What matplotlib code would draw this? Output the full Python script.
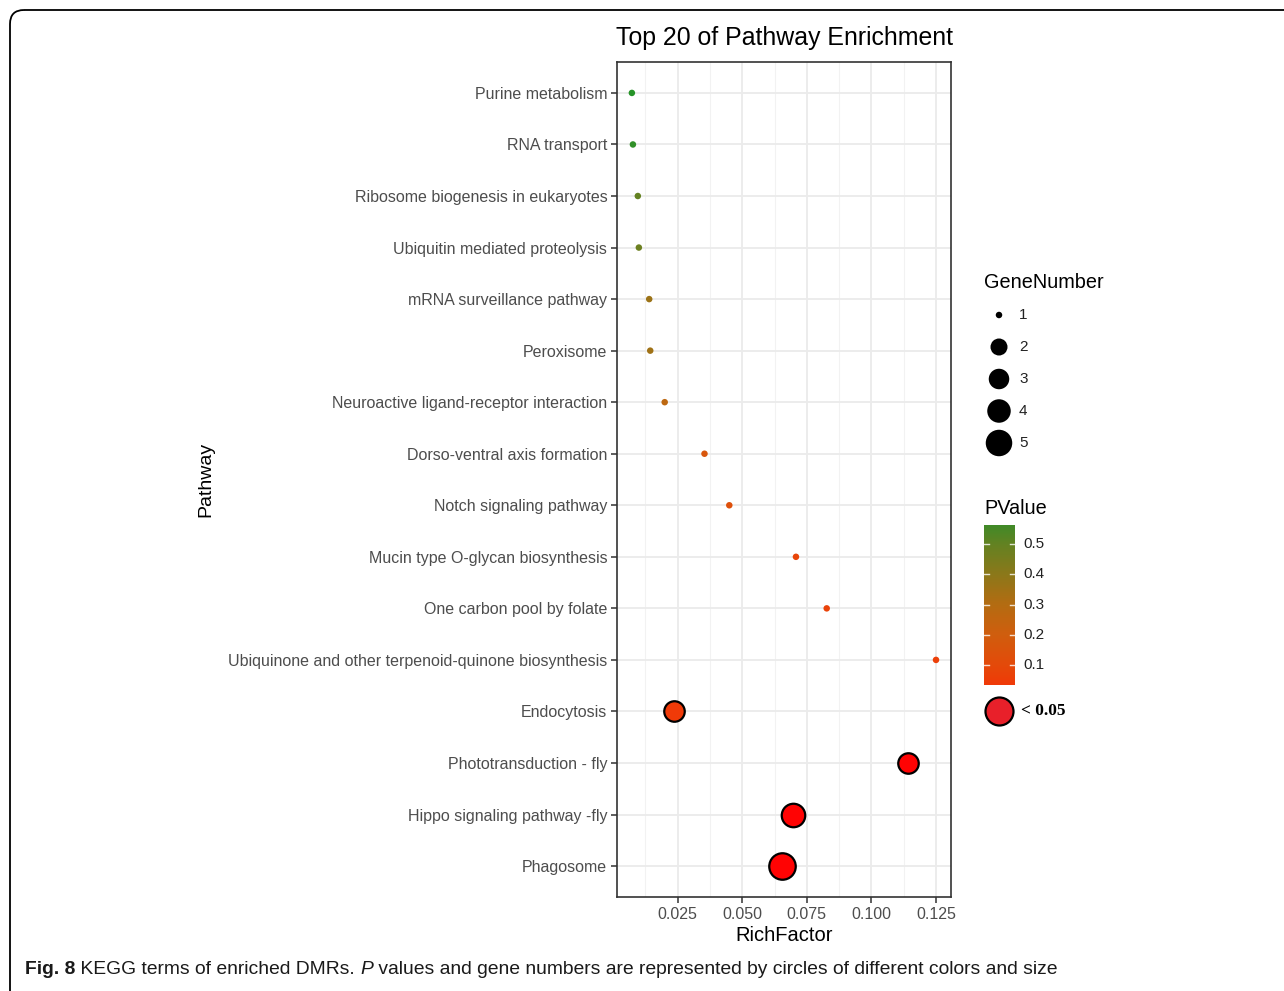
import matplotlib
matplotlib.use("Agg")
import matplotlib.pyplot as plt
import numpy as np
from matplotlib.colors import LinearSegmentedColormap, Normalize
from matplotlib.patches import FancyBboxPatch
from matplotlib import font_manager

# ---- data -------------------------------------------------------------
pathways = [
    "Purine metabolism",
    "RNA transport",
    "Ribosome biogenesis in eukaryotes",
    "Ubiquitin mediated proteolysis",
    "mRNA surveillance pathway",
    "Peroxisome",
    "Neuroactive ligand-receptor interaction",
    "Dorso-ventral axis formation",
    "Notch signaling pathway",
    "Mucin type O-glycan biosynthesis",
    "One carbon pool by folate",
    "Ubiquinone and other terpenoid-quinone biosynthesis",
    "Endocytosis",
    "Phototransduction - fly",
    "Hippo signaling pathway -fly",
    "Phagosome",
]
rich_factor = [0.0073, 0.0077, 0.0096, 0.0100, 0.0140, 0.0144, 0.0200, 0.0354,
               0.0450, 0.0708, 0.0827, 0.1250, 0.0235, 0.1142, 0.0696, 0.0654]
p_value = [0.59, 0.58, 0.50, 0.48, 0.36, 0.35, 0.27, 0.16,
           0.13, 0.08, 0.07, 0.06, 0.036, 0.010, 0.008, 0.005]
gene_number = [1, 1, 1, 1, 1, 1, 1, 1, 1, 1, 1, 1, 3, 3, 4, 5]

x_ticks = [0.025, 0.050, 0.075, 0.100, 0.125]
cbar_ticks = [0.1, 0.2, 0.3, 0.4, 0.5]
size_levels = [1, 2, 3, 4, 5]

# ---- styling ------------------------------------------------------------
W, H, DPI = 1284, 991, 100
SANS = "Liberation Sans"
GREY_TXT = "#4D4D4D"
PX2PT = 72.0 / DPI

# marker diameter (px) for each gene count
diam_px = {1: 6.5, 2: 17.0, 3: 20.5, 4: 23.5, 5: 26.5}

def marker_area(n):
    d = diam_px[n] * PX2PT
    return d * d

P_LO, P_HI, P_CB_TOP = 0.034, 0.60, 0.563
anchors = [
    (0.034, (240, 58, 8)),
    (0.10, (228, 74, 10)),
    (0.20, (208, 94, 14)),
    (0.30, (180, 108, 18)),
    (0.40, (140, 120, 26)),
    (0.50, (100, 130, 34)),
    (0.563, (65, 138, 40)),
    (0.60, (30, 150, 40)),
]
cmap = LinearSegmentedColormap.from_list(
    "pval",
    [((p - P_LO) / (P_HI - P_LO), tuple(c / 255 for c in rgb)) for p, rgb in anchors],
)
cmap.set_under("#FF0303")
norm = Normalize(vmin=P_LO, vmax=P_HI)

fig = plt.figure(figsize=(W / DPI, H / DPI), dpi=DPI)
fig.patch.set_facecolor("white")

def fx(px):
    return px / W

def fy(py):
    return 1 - py / H

# ---- main panel ----------------------------------------------------------
L, R, T, B = 617, 951, 62, 897
ax = fig.add_axes([fx(L), fy(B), fx(R - L), (B - T) / H])
n = len(pathways)
ypos = np.arange(n)[::-1]

ax.set_xlim(0.00154, 0.1308)
ax.set_ylim(-0.6, n - 1 + 0.6)
ax.set_xticks(x_ticks)
ax.set_xticklabels([f"{t:.3f}" for t in x_ticks])
ax.set_xticks(np.arange(0.0125, 0.131, 0.025), minor=True)
ax.set_yticks(ypos)
ax.set_yticklabels(pathways)
ax.grid(True, which="major", color="#EBEBEB", lw=1.3, zorder=0)
ax.grid(True, which="minor", axis="x", color="#F2F2F2", lw=0.8, zorder=0)
ax.set_axisbelow(True)
for sp in ax.spines.values():
    sp.set_color("#333333")
    sp.set_linewidth(1.2)
ax.tick_params(axis="both", which="major", length=4, width=1.1, color="#333333",
               labelsize=11.5, labelcolor=GREY_TXT, pad=3)
ax.tick_params(axis="both", which="minor", length=0)
for lab in ax.get_xticklabels() + ax.get_yticklabels():
    lab.set_fontfamily(SANS)

cols = [cmap(norm(p)) for p in p_value]
sig = [p < 0.05 for p in p_value]
for i in range(n):
    ax.scatter(rich_factor[i], ypos[i], s=marker_area(gene_number[i]), color=cols[i],
               edgecolors="black" if sig[i] else "none",
               linewidths=1.6 if sig[i] else 0, zorder=3)

ax.set_xlabel("RichFactor", fontsize=14.5, family=SANS, color="black", labelpad=3)
ax.set_ylabel("Pathway", fontsize=14, family=SANS, color="black")
ax.yaxis.set_label_coords((214 - L) / (R - L), 0.5)
ax.set_title("Top 20 of Pathway Enrichment", fontsize=17.9, family=SANS, pad=12)

# ---- overlay in pixel units for legends, frame and caption ---------------
ov = fig.add_axes([0, 0, 1, 1], zorder=-1)
ov.set_xlim(0, W)
ov.set_ylim(H, 0)
ov.axis("off")
ov.patch.set_alpha(0)

ov.add_patch(FancyBboxPatch((10, 10), W + 20, H + 20,
                            boxstyle="round,pad=0,rounding_size=14",
                            fc="none", ec="black", lw=1.3))

ov2 = fig.add_axes([0, 0, 1, 1], zorder=5)
ov2.set_xlim(0, W)
ov2.set_ylim(H, 0)
ov2.axis("off")
ov2.patch.set_alpha(0)

# gene number legend
ov2.text(984, 283, "GeneNumber", fontsize=14.3, family=SANS, va="center", ha="left")
for k, lvl in enumerate(size_levels):
    yy = 315 + 32 * k
    ov2.scatter(999, yy, s=marker_area(lvl), color="black", edgecolors="none")
    ov2.text(1019, yy, str(lvl), fontsize=11, family=SANS, va="center", ha="left",
             color="#222222")

# p value colourbar
ov2.text(984, 509, "PValue", fontsize=14.3, family=SANS, va="center", ha="left")
cb_top, cb_bot, cb_l, cb_r = 525, 685, 984, 1015
cax = fig.add_axes([fx(cb_l), fy(cb_bot), fx(cb_r - cb_l), (cb_bot - cb_top) / H])
grad = np.linspace(P_LO, P_CB_TOP, 256).reshape(-1, 1)
cax.imshow(grad, aspect="auto", cmap=cmap, norm=norm, origin="lower",
           extent=[0, 1, P_LO, P_CB_TOP])
cax.set_xlim(0, 1)
cax.set_ylim(P_LO, P_CB_TOP)
cax.axis("off")
for t in cbar_ticks:
    cax.plot([0, 0.17], [t, t], color="white", lw=1.0, alpha=0.8)
    cax.plot([0.83, 1], [t, t], color="white", lw=1.0, alpha=0.8)
    ypx = cb_bot - (t - P_LO) / (P_CB_TOP - P_LO) * (cb_bot - cb_top)
    ov2.text(1023, ypx, f"{t:.1f}", fontsize=11, family=SANS, va="center",
             ha="left", color="#222222")

# significance key
ov2.scatter(999, 711, s=(28 * PX2PT) ** 2, color="#E8202A", edgecolors="black",
            linewidths=1.6)
ov2.text(1021, 711, "< 0.05", fontsize=12.5, family="Liberation Serif",
         weight="bold", va="center", ha="left")

# ---- caption -------------------------------------------------------------
names = {f.name for f in font_manager.fontManager.ttflist}
cap_font = "Liberation Sans Narrow" if "Liberation Sans Narrow" in names else SANS
pieces = [("Fig. 8", "bold", "normal"),
          (" KEGG terms of enriched DMRs. ", "normal", "normal"),
          ("P", "normal", "italic"),
          (" values and gene numbers are represented by circles of different colors and size",
           "normal", "normal")]

def draw_caption(size):
    renderer = fig.canvas.get_renderer()
    x = 25.0
    arts = []
    for txt, wt, st in pieces:
        a = ov2.text(x, 970, txt, fontsize=size, family=cap_font, weight=wt,
                     style=st, va="center", ha="left", color="#1a1a1a")
        bb = a.get_window_extent(renderer)
        x += bb.width
        arts.append(a)
    return arts, x

arts, xend = draw_caption(13)
scale = (1052 - 25) / (xend - 25)
for a in arts:
    a.remove()
draw_caption(13 * scale)

fig.savefig("out.png", dpi=DPI, facecolor="white")
